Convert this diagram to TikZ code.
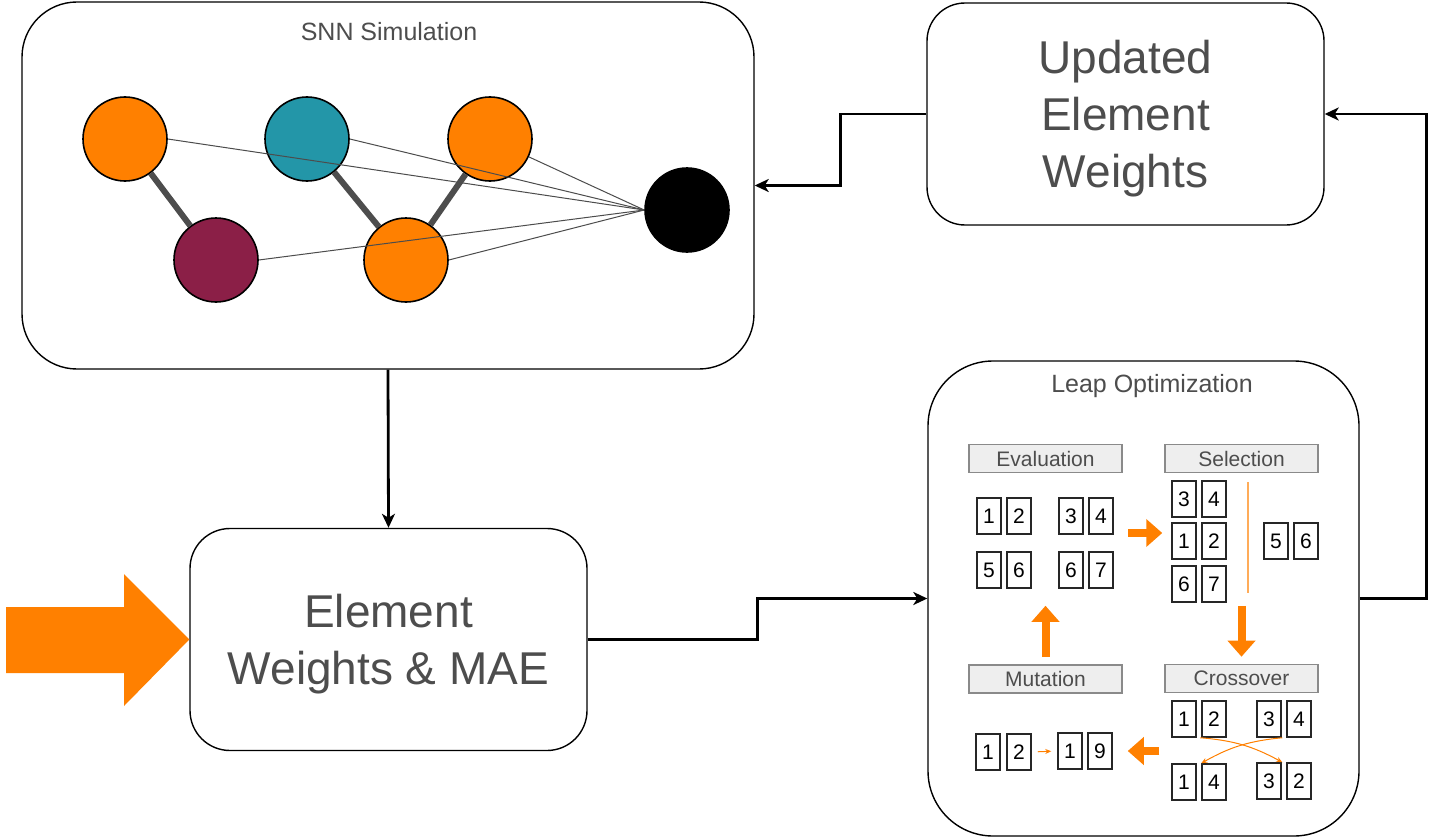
\documentclass[tikz,border=0pt]{standalone}
\usepackage{fontspec}
\setmainfont{Liberation Sans}
\usetikzlibrary{positioning,arrows.meta,calc}
\definecolor{nrnorange}{RGB}{255,128,0}
\definecolor{nrnteal}{RGB}{35,150,168}
\definecolor{nrnmaroon}{RGB}{139,31,71}
\definecolor{txtgray}{RGB}{77,77,77}
\definecolor{hdrfill}{RGB}{238,238,238}
\definecolor{hdrline}{RGB}{138,138,138}

\tikzset{
  panel/.style={draw,line width=1.4pt,rounded corners=#1,fill=white,inner sep=0pt},
  paneltitle/.style={text=txtgray,font=\fontsize{25}{25}\selectfont},
  bigtext/.style={text=txtgray,align=center,text depth=0pt,font=\fontsize{46}{57}\selectfont},
  neuron/.style={circle,draw,line width=1.6pt,minimum size=84pt,inner sep=0pt},
  synthick/.style={draw=txtgray,line width=6pt},
  synthin/.style={draw=black!70,line width=1pt},
  flow/.style={draw,line width=2.8pt,-{Stealth[length=14pt,width=13pt,inset=4pt]}},
  stagehdr/.style={draw=hdrline,fill=hdrfill,line width=1.6pt,minimum width=153pt,
    minimum height=28pt,inner sep=0pt,text=txtgray,font=\fontsize{21}{21}\selectfont},
  gene/.style={draw=black!85,line width=1.5pt,minimum width=24pt,minimum height=36pt,
    inner sep=0pt,font=\fontsize{21}{21}\selectfont},
  blockarr/.style={draw=nrnorange,line width=8pt,-{Triangle[length=16pt,width=27pt]}},
  swaparr/.style={draw=nrnorange,line width=1pt,-{Stealth[length=6pt,width=5pt]}},
}

\begin{document}
\begin{tikzpicture}[x=1pt,y=-1pt]
  \useasboundingbox (0,0) rectangle (1429,840);
  % panels
  \node[panel=55pt,minimum width=732pt,minimum height=367pt] (snn) at (388,185.5) {};
  \node[paneltitle] (snnlbl) at (389,32) {SNN Simulation};
  \node[panel=38pt,minimum width=397pt,minimum height=222pt,bigtext] (upd) at (1125.5,114)
     {Updated\\Element\\Weights};
  \node[panel=40pt,minimum width=397pt,minimum height=222pt,bigtext] (elem) at (388.5,639.5)
     {Element\\Weights \& MAE};
  \node[panel=65pt,minimum width=431pt,minimum height=475pt] (leap) at (1143.5,598.5) {};
  \node[paneltitle] (leaplbl) at (1152,386) {Leap Optimization};

  % network
  \node[neuron,fill=nrnorange] (n1) at (125,139) {};
  \node[neuron,fill=nrnteal]   (n2) at (307,139) {};
  \node[neuron,fill=nrnorange] (n3) at (490,139) {};
  \node[neuron,fill=nrnmaroon] (n4) at (216,260) {};
  \node[neuron,fill=nrnorange] (n5) at (406,260) {};
  \node[neuron,fill=black]     (out) at (687,210) {};
  \draw[synthick] (n1) -- (n4);
  \draw[synthick] (n2) -- (n5);
  \draw[synthick] (n3) -- (n5);
  \foreach \s in {n1.east,n2.east,n3,n4.east,n5.east}
    \draw[synthin] (\s) -- (out.west);

  % input arrow
  \fill[nrnorange] (6,607) -- (124,607) -- (124,574) -- (elem.west)
     -- (124,706) -- (124,673) -- (6,673) -- cycle;

  % loop connectors
  \draw[flow] (snn.south) -- (elem.north);
  \draw[flow] (elem.east) -| ($(elem.east)!.5!(leap.west)$) |- (leap.west);
  \draw[flow] (leap.east) -- ++(67,0) |- (upd.east);
  \draw[flow] (upd.west) -| ($(upd.west)!.5!(snn.east)$) |- (snn.east);

  % stages
  \node[stagehdr] (eval)  at (1045.5,458.5) {Evaluation};
  \node[stagehdr] (sel)   at (1241.5,458.5) {Selection};
  \node[stagehdr] (mut)   at (1045.5,679)   {Mutation};
  \node[stagehdr] (cross) at (1241.5,678.5) {Crossover};

  % individuals
  \foreach \nm/\x/\y/\v in {ea/989/516/1, eb/1019/516/2, ec/1071/516/3, ed/1101/516/4,
      ee/989/570/5, ef/1019/570/6, eg/1071/570/6, eh/1101/570/7,
      sa/1184/499/3, sb/1214/499/4, sc/1184/541/1, sd/1214/541/2,
      se/1184/584/6, sf/1214/584/7, sg/1276/541/5, sh/1306/541/6,
      ca/1184/719/1, cb/1214/719/2, cc/1269/719/3, cd/1299/719/4,
      da/1184/782/1, db/1214/782/4, dc/1269/781/3, dd/1299/781/2,
      ma/988/752/1, mb/1019/752/2, mc/1070/751/1, md/1100/751/9}
    \node[gene] (\nm) at (\x,\y) {\v};
  \draw[nrnorange!65,line width=1.2pt] (1248,482) -- (1248,593);

  % stage arrows
  \coordinate (evalout) at (1128,533);
  \draw[blockarr] (evalout) -- (evalout -| sc.west) [shorten >=9pt];
  \draw[blockarr,shorten <=3pt,shorten >=7pt] (sel |- sf.south) -- (cross.north);
  \draw[blockarr,shorten <=12pt,shorten >=15pt] (ca.west |- mc) -- (md.east);
  \draw[blockarr,shorten <=7pt,shorten >=17pt] (mut.north) -- (mut |- eg.south);
  \draw[swaparr] ([xshift=-1pt]cb.south west) to[bend left=12] ([xshift=-4pt]dd.north west);
  \draw[swaparr] ([xshift=-4pt]cd.south west) to[bend right=12] (db.north west);
  \draw[swaparr,shorten <=6pt,shorten >=6pt] (mb.east) -- (mc.west);
\end{tikzpicture}
\end{document}
